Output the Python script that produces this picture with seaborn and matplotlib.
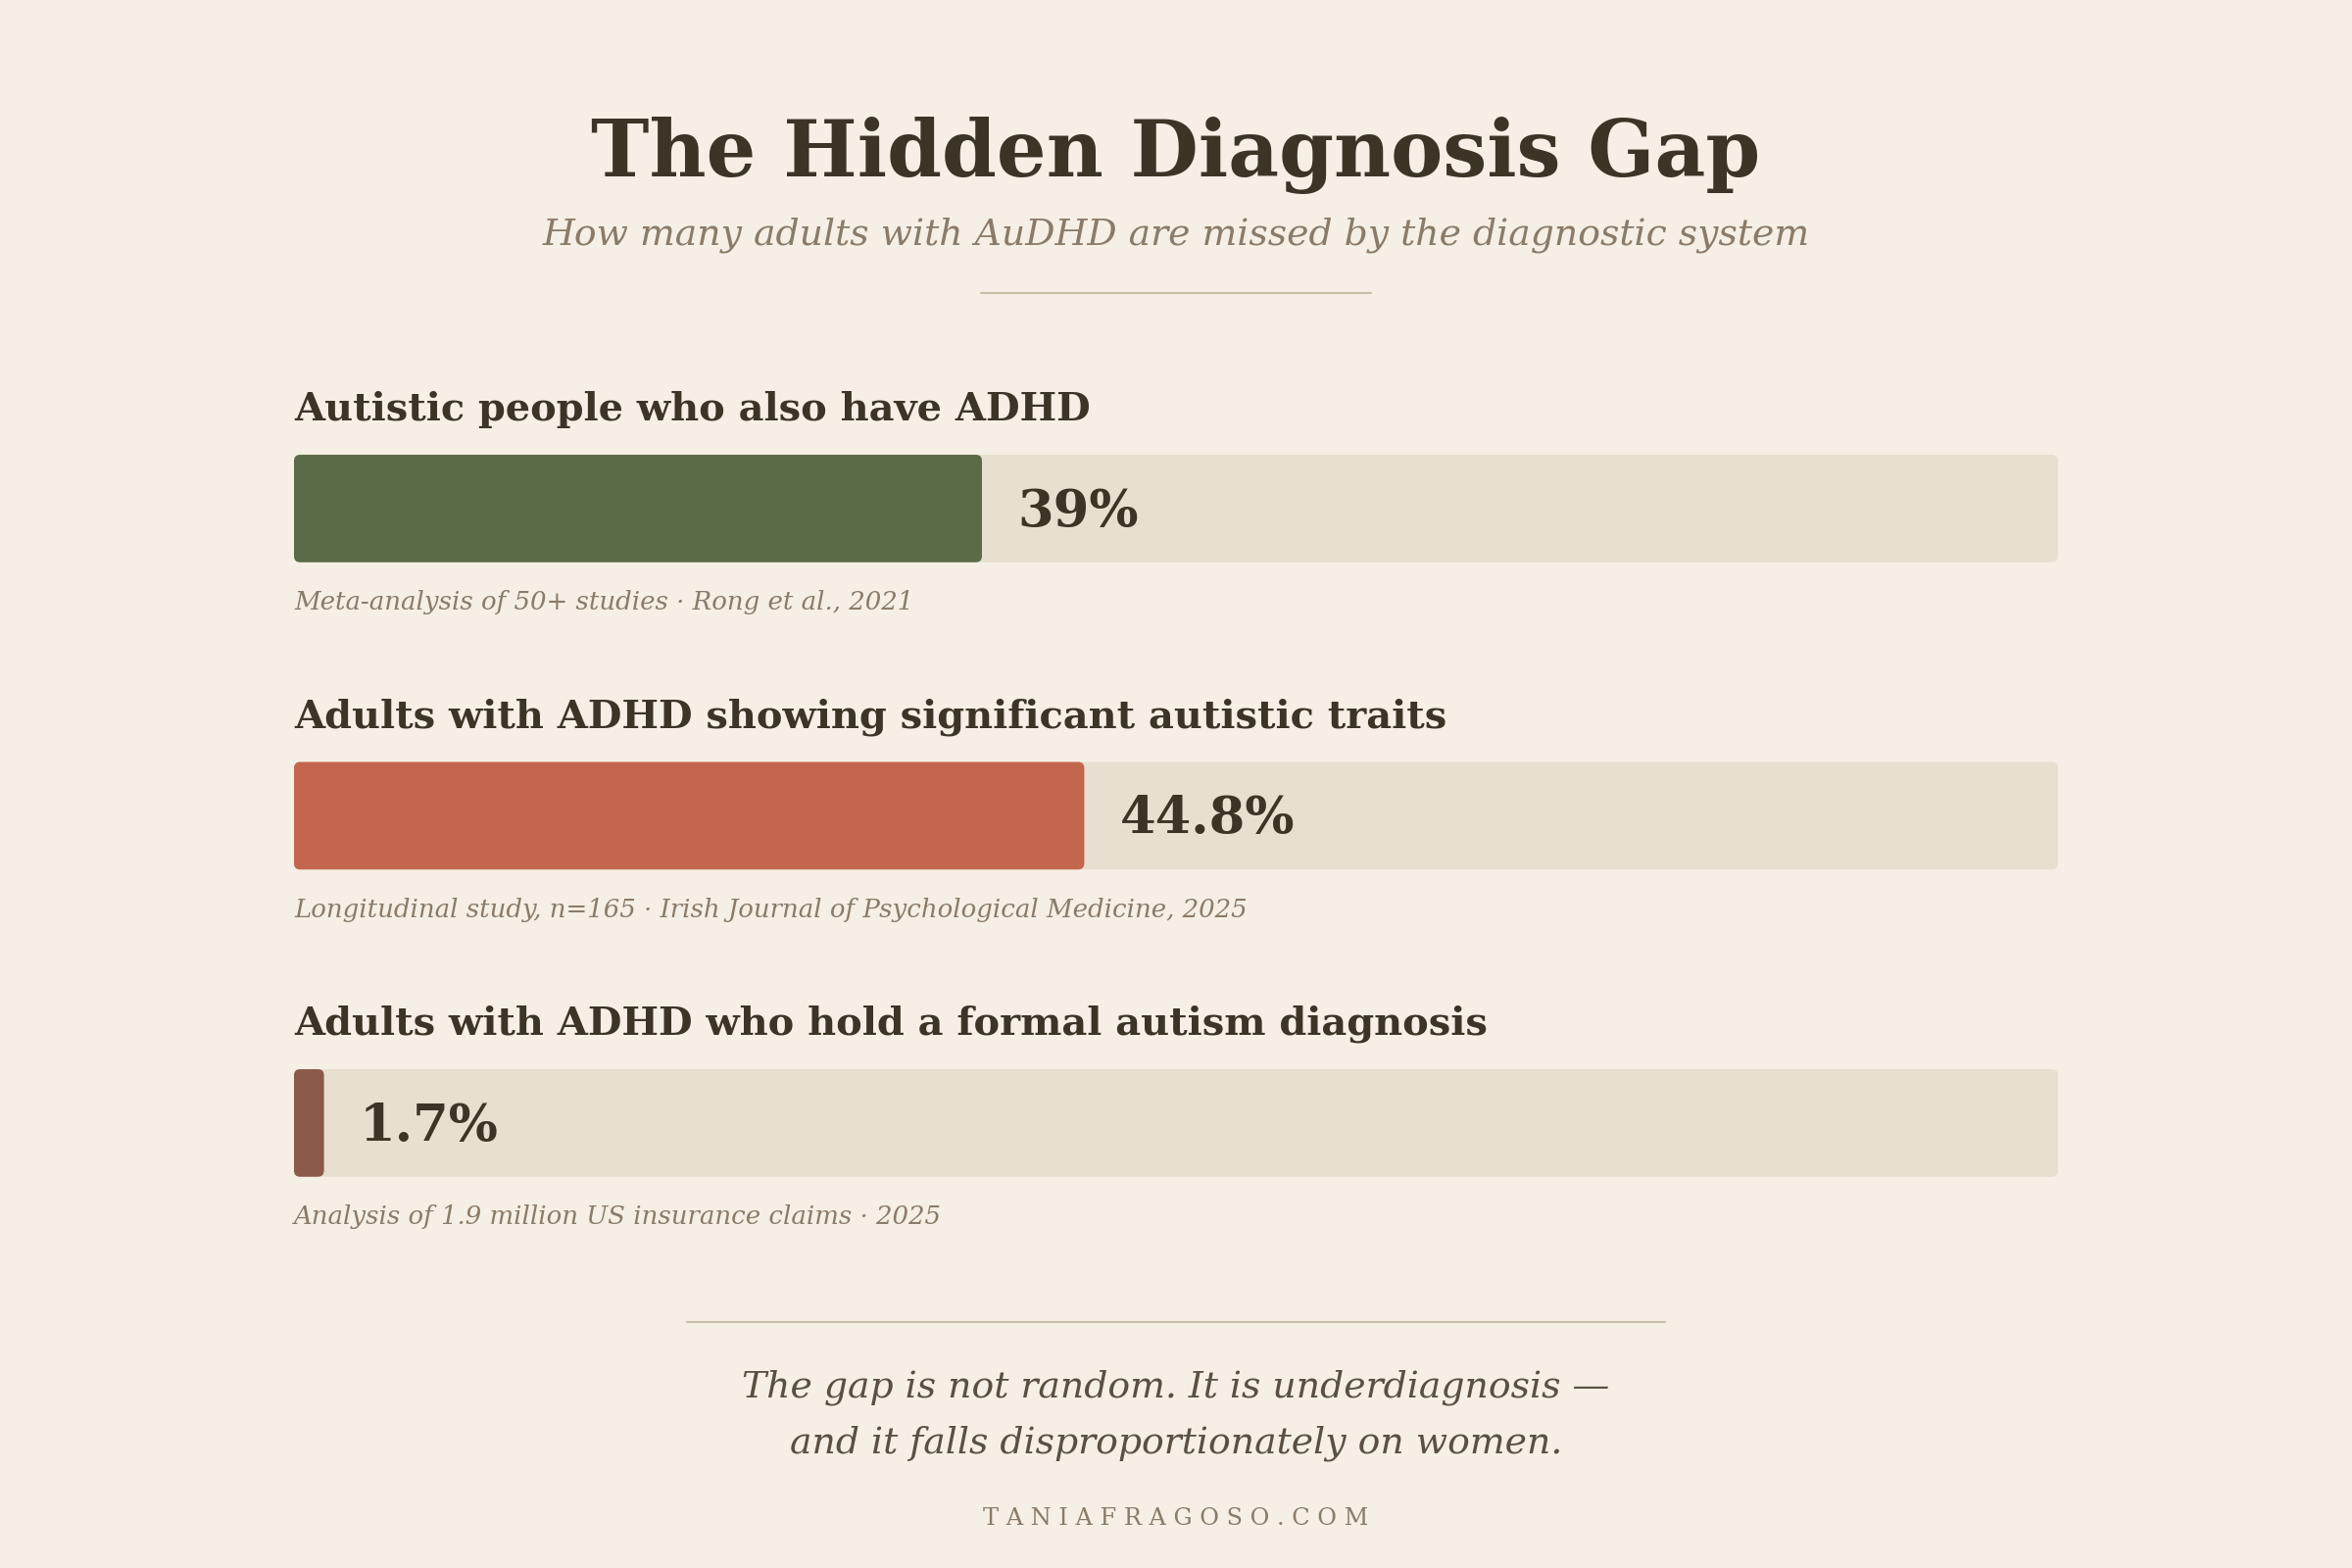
# imports
import numpy as np
import pandas as pd
import matplotlib.pyplot as plt
import seaborn as sns
from matplotlib.patches import FancyBboxPatch

# data
labels = [
    'Autistic people who also have ADHD',
    'Adults with ADHD showing significant autistic traits',
    'Adults with ADHD who hold a formal autism diagnosis',
]
values = [39.0, 44.8, 1.7]
value_text = ['39%', '44.8%', '1.7%']
sources = [
    'Meta-analysis of 50+ studies · Rong et al., 2021',
    'Longitudinal study, n=165 · Irish Journal of Psychological Medicine, 2025',
    'Analysis of 1.9 million US insurance claims · 2025',
]
bar_colors = ['#5a6b48', '#c4654d', '#8b5a4a']

BG = '#f5efe5'
TRACK = '#e7dfd0'
DARK = '#3d3428'
MUTED = '#8a7b6a'
RULE = '#c9bea9'

sns.set_theme(style='white')
plt.rcParams['font.family'] = ['DejaVu Serif']

fig = plt.figure(figsize=(24, 16), dpi=100, facecolor=BG)

# bars area: x 300..2100 px, y 380..1260 px (from top)
ax = fig.add_axes([300 / 2400, 1 - 1260 / 1600, 1800 / 2400, 880 / 1600])
ax.set_facecolor('none')

df = pd.DataFrame({'label': labels, 'value': values, 'track': [100] * len(values)})

sns.barplot(data=df, y='label', x='track', color=TRACK, saturation=1,
            width=0.35, ax=ax)
sns.barplot(data=df, y='label', x='value', hue='label', palette=bar_colors,
            saturation=1, width=0.35, legend=False, ax=ax)

ax.set_xlim(0, 100)
ax.set_ylim(2.364, -0.443)

# swap plain rectangles for rounded ones
px_per_x = 1800 / 100
px_per_y = 880 / (2.364 + 0.443)
aspect = px_per_x / px_per_y
for p in list(ax.patches):
    x, y = p.get_x(), p.get_y()
    w, h = p.get_width(), p.get_height()
    fb = FancyBboxPatch((x, y), w, h,
                        boxstyle='round,pad=0,rounding_size=0.35',
                        mutation_aspect=aspect,
                        facecolor=p.get_facecolor(), edgecolor='none',
                        zorder=p.get_zorder())
    p.remove()
    ax.add_patch(fb)

for i, (v, t, lab, src) in enumerate(zip(values, value_text, labels, sources)):
    ax.text(0, i - 0.322, lab, ha='left', va='center', fontsize=28.7,
            fontweight='bold', color=DARK)
    ax.text(v + 2.0, i + 0.01, t, ha='left', va='center', fontsize=38,
            fontweight='bold', color=DARK)
    ax.text(0, i + 0.305, src, ha='left', va='center', fontsize=18.7,
            style='italic', color=MUTED)

ax.set_xlabel('')
ax.set_ylabel('')
ax.set_xticks([])
ax.set_yticks([])
sns.despine(ax=ax, left=True, bottom=True)

# header
fig.text(0.5, 1 - 158 / 1600, 'The Hidden Diagnosis Gap', ha='center', va='center',
         fontsize=57.5, fontweight='bold', color=DARK)
fig.text(0.5, 1 - 240 / 1600, 'How many adults with AuDHD are missed by the diagnostic system',
         ha='center', va='center', fontsize=27.2, style='italic', color=MUTED)
fig.add_artist(plt.Line2D([1001 / 2400, 1399 / 2400], [1 - 299 / 1600] * 2,
                          color=RULE, lw=1.5))

# footer
fig.add_artist(plt.Line2D([701 / 2400, 1699 / 2400], [1 - 1349 / 1600] * 2,
                          color=RULE, lw=1.5))
fig.text(0.5, 1 - 1416 / 1600, 'The gap is not random. It is underdiagnosis —',
         ha='center', va='center', fontsize=27.2, style='italic', color='#5a4f42')
fig.text(0.5, 1 - 1473 / 1600, 'and it falls disproportionately on women.',
         ha='center', va='center', fontsize=27.2, style='italic', color='#5a4f42')
fig.text(0.5, 1 - 1550 / 1600, ' '.join('TANIAFRAGOSO.COM'),
         ha='center', va='center', fontsize=17.3, color=MUTED)

plt.savefig('out.png', dpi=100, facecolor=BG)
